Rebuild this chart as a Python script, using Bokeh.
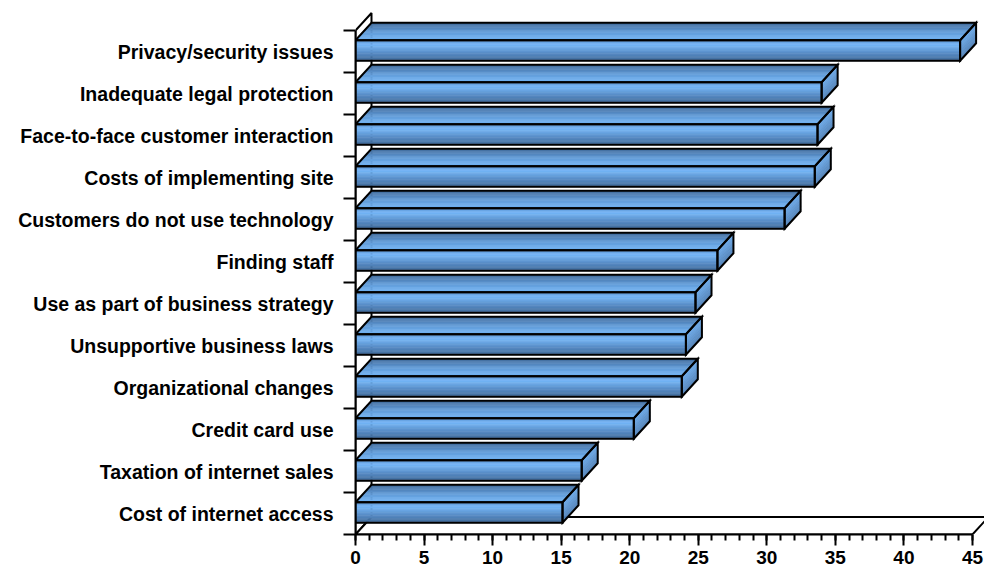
from bokeh.plotting import figure
from bokeh.models import Range1d, FixedTicker, ColumnDataSource
from bokeh.embed import file_html
from bokeh.resources import INLINE

categories = [
    "Cost of internet access",
    "Taxation of internet sales",
    "Credit card use",
    "Organizational changes",
    "Unsupportive business laws",
    "Use as part of business strategy",
    "Finding staff",
    "Customers do not use technology",
    "Costs of implementing site",
    "Face-to-face customer interaction",
    "Inadequate legal protection",
    "Privacy/security issues",
]
values = [15.1, 16.5, 20.3, 23.8, 24.1, 24.8, 26.4, 31.3, 33.5, 33.7, 34.0, 44.1]
x_ticks = [0, 5, 10, 15, 20, 25, 30, 35, 40, 45]
x_max = 45

# ---- layout (pixels) ----
W, H = 984, 570
LEFT_B = 355
BOTTOM_B = 36
frame_w = W - LEFT_B
frame_h = H - BOTTOM_B
PX_X = 13.71                 # px per value unit
PX_Y = (frame_h - 30) / 12.0  # px per category

DX = 16.0 / PX_X          # depth offset in x units
DY = 17.5 / PX_Y          # depth offset in y units
FB = 0.28                 # front face bottom inside category
FT = 0.767                # front face top inside category

p = figure(width=W, height=H,
           x_range=Range1d(0, frame_w / PX_X),
           y_range=Range1d(0, frame_h / PX_Y),
           min_border_left=LEFT_B, min_border_right=0,
           min_border_top=0, min_border_bottom=BOTTOM_B,
           output_backend="svg", toolbar_location=None)
p.outline_line_color = None
p.xgrid.visible = False
p.ygrid.visible = False
p.background_fill_color = "white"
p.border_fill_color = "white"

n = len(categories)

# wall and floor
p.patch([0, 0, DX, DX], [0, n, n + DY, DY], fill_color="white",
        line_color="black", line_width=2)
p.patch([0, x_max, x_max + DX, DX], [0, 0, DY, DY], fill_color="white",
        line_color="black", line_width=2)

LIGHT = (114, 180, 246)
DARK = (52, 86, 130)


def shade(profile, f):
    for (f0, s0), (f1, s1) in zip(profile[:-1], profile[1:]):
        if f0 <= f <= f1:
            s = s0 + (s1 - s0) * (f - f0) / (f1 - f0)
            break
    c = [int(round(l + (d - l) * s)) for l, d in zip(LIGHT, DARK)]
    return "#%02x%02x%02x" % tuple(c)


FRONT = [(0, 0.25), (0.25, 0.0), (1, 0.8)]
TOP = [(0, 0.8), (0.55, 0.25), (1, 0.0)]
SIDE = [(0, 0.1), (1, 0.55)]
NS = 14

xs, ys, cs = [], [], []
oxs, oys = [], []
for i, v in enumerate(values):
    yb = i + FB
    yt = i + FT
    h = yt - yb
    for k in range(NS):
        f0, f1 = k / NS, (k + 1) / NS
        fm = (f0 + f1) / 2
        # front face strip (top to bottom)
        y0 = yt - h * f0
        y1 = yt - h * f1
        xs.append([0, v, v, 0]); ys.append([y1, y1, y0, y0]); cs.append(shade(FRONT, fm))
        # top face strip (back to front)
        a0, a1 = 1 - f0, 1 - f1
        xs.append([DX * a0, v + DX * a0, v + DX * a1, DX * a1])
        ys.append([yt + DY * a0, yt + DY * a0, yt + DY * a1, yt + DY * a1])
        cs.append(shade(TOP, fm))
        # side face strip (top to bottom)
        s0 = yt - h * f0
        s1 = yt - h * f1
        xs.append([v, v + DX, v + DX, v])
        ys.append([s0, s0 + DY, s1 + DY, s1])
        cs.append(shade(SIDE, fm))
    # outlines
    oxs.append([0, v, v, 0]); oys.append([yb, yb, yt, yt])
    oxs.append([0, v, v + DX, DX]); oys.append([yt, yt, yt + DY, yt + DY])
    oxs.append([v, v + DX, v + DX, v]); oys.append([yb, yb + DY, yt + DY, yt])

src = ColumnDataSource(dict(xs=xs, ys=ys, c=cs))
p.patches("xs", "ys", source=src, fill_color="c", line_color="c", line_width=0.6)
p.patches(oxs, oys, fill_alpha=0, line_color="black", line_width=2,
          line_join="miter")

# x axis
xa = p.xaxis[0]
xa.bounds = (0, x_max)
xa.ticker = FixedTicker(ticks=x_ticks, minor_ticks=list(range(0, x_max + 1)))
xa.axis_line_width = 2
xa.axis_line_color = "black"
xa.major_tick_line_width = 2
xa.minor_tick_line_width = 2
xa.major_tick_out = 11
xa.major_tick_in = 0
xa.minor_tick_out = 6
xa.minor_tick_in = 0
xa.major_label_standoff = 5
xa.major_label_text_font = "Liberation Sans"
xa.major_label_text_font_style = "bold"
xa.major_label_text_font_size = "19px"
xa.major_label_text_color = "black"

# y axis
ya = p.yaxis[0]
ya.bounds = (0, n)
centers = [i + 0.5 for i in range(n)]
ya.ticker = FixedTicker(ticks=centers, minor_ticks=list(range(0, n + 1)))
ya.major_label_overrides = {c: lab for c, lab in zip(centers, categories)}
ya.axis_line_width = 2
ya.axis_line_color = "black"
ya.major_tick_out = 0
ya.major_tick_in = 0
ya.minor_tick_out = 12
ya.minor_tick_in = 0
ya.minor_tick_line_width = 2
ya.major_label_standoff = 10
ya.major_label_text_font = "Liberation Sans"
ya.major_label_text_font_style = "bold"
ya.major_label_text_font_size = "19.5px"
ya.major_label_text_color = "black"

open("out.html", "w").write(file_html(p, INLINE))
